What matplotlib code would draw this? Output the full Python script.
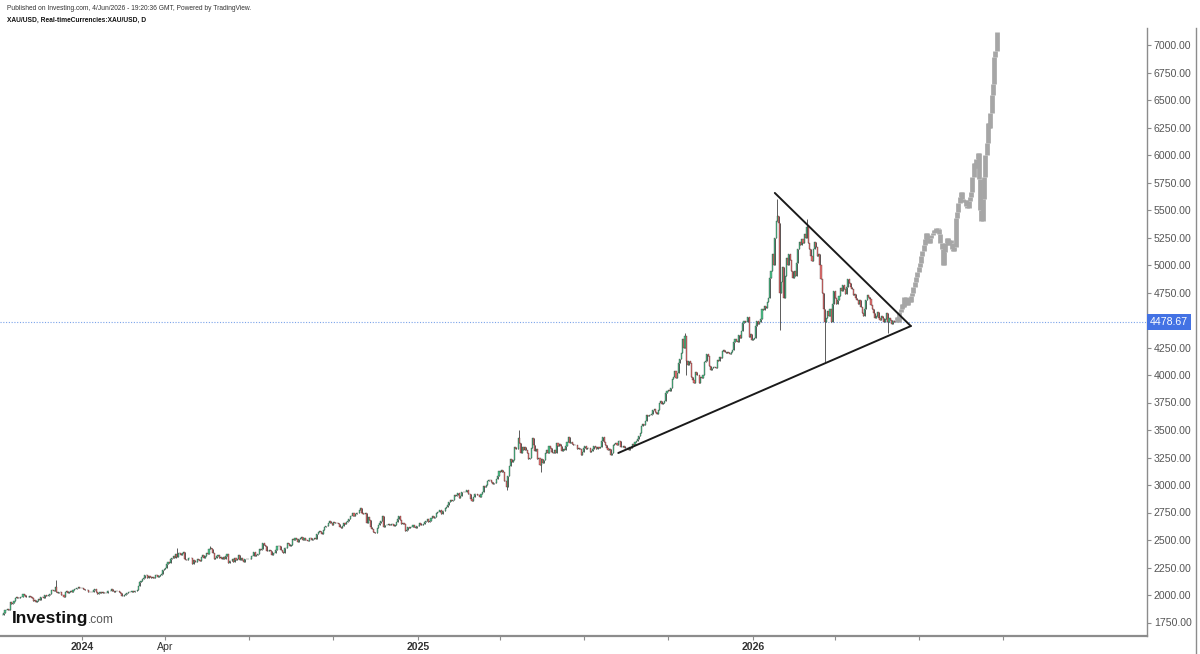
import numpy as np
import pandas as pd
import matplotlib
matplotlib.use("Agg")
import matplotlib.pyplot as plt
from matplotlib.lines import Line2D
from matplotlib.transforms import blended_transform_factory

# ---------------- data: daily closes (XAU/USD) ----------------
c_2023_10 = [1820, 1833, 1861, 1861, 1874, 1868, 1932, 1920, 1923, 1947, 1974, 1981, 1973, 1970, 1980, 1985, 2006, 1996, 1983]
c_2023_11 = [1983, 1986, 1992, 1978, 1969, 1950, 1958, 1940, 1946, 1962, 1958, 1981, 1980, 1977, 1998, 1990, 1993, 2001, 2013, 2041, 2044, 2036]
c_2023_12 = [2072, 2029, 2019, 2025, 2028, 2004, 1999, 1981, 2027, 2036, 2019, 2027, 2040, 2031, 2046, 2053, 2053, 2067, 2077, 2065, 2062]
c_2024_01 = [2062, 2059, 2041, 2043, 2045, 2027, 2029, 2024, 2029, 2049, 2054, 2028, 2006, 2022, 2029, 2021, 2029, 2016, 2020, 2018, 2032, 2036, 2039]
c_2024_02 = [2054, 2039, 2025, 2035, 2034, 2033, 2024, 2020, 1992, 1992, 2004, 2013, 2018, 2024, 2025, 2024, 2035, 2031, 2034, 2035, 2044]
c_2024_03 = [2083, 2115, 2128, 2148, 2159, 2179, 2182, 2158, 2175, 2162, 2155, 2160, 2157, 2186, 2181, 2165, 2172, 2179, 2194, 2230, 2233]
c_2024_04 = [2250, 2280, 2300, 2291, 2329, 2339, 2351, 2333, 2373, 2344, 2383, 2382, 2361, 2379, 2391, 2327, 2322, 2316, 2332, 2337, 2335, 2286]
c_2024_05 = [2320, 2303, 2301, 2323, 2314, 2309, 2346, 2360, 2336, 2358, 2386, 2377, 2415, 2425, 2421, 2379, 2329, 2334, 2351, 2361, 2338, 2343, 2327]
c_2024_06 = [2350, 2327, 2355, 2375, 2293, 2311, 2310, 2324, 2304, 2332, 2319, 2329, 2361, 2321, 2334, 2319, 2298, 2327, 2325, 2326]
c_2024_07 = [2331, 2330, 2356, 2356, 2391, 2358, 2363, 2371, 2415, 2411, 2422, 2469, 2459, 2445, 2400, 2397, 2409, 2397, 2364, 2386, 2384, 2411, 2447]
c_2024_08 = [2446, 2443, 2410, 2390, 2383, 2427, 2431, 2472, 2465, 2447, 2456, 2507, 2503, 2514, 2512, 2485, 2512, 2519, 2525, 2503, 2520, 2503]
c_2024_09 = [2500, 2494, 2516, 2517, 2497, 2505, 2516, 2512, 2558, 2577, 2580, 2570, 2559, 2587, 2621, 2628, 2629, 2657, 2672, 2658, 2634]
c_2024_10 = [2662, 2659, 2656, 2653, 2644, 2622, 2608, 2631, 2657, 2649, 2663, 2674, 2693, 2721, 2720, 2748, 2717, 2735, 2747, 2742, 2774, 2788, 2743]
c_2024_11 = [2736, 2736, 2742, 2659, 2706, 2685, 2619, 2598, 2573, 2565, 2563, 2611, 2632, 2651, 2670, 2715, 2617, 2632, 2638, 2638, 2650]
c_2024_12 = [2640, 2643, 2650, 2631, 2633, 2660, 2694, 2718, 2681, 2648, 2652, 2646, 2586, 2595, 2622, 2612, 2617, 2617, 2633, 2621, 2606, 2624]
c_2025_01 = [2624, 2657, 2640, 2636, 2648, 2662, 2670, 2690, 2662, 2677, 2696, 2715, 2703, 2708, 2744, 2755, 2753, 2770, 2739, 2763, 2760, 2793, 2798]
c_2025_02 = [2815, 2842, 2866, 2855, 2861, 2907, 2897, 2905, 2929, 2883, 2899, 2935, 2933, 2939, 2936, 2951, 2914, 2916, 2876, 2857]
c_2025_03 = [2893, 2918, 2920, 2911, 2910, 2889, 2917, 2934, 2988, 2984, 3001, 3035, 3048, 3043, 3023, 3010, 3020, 3019, 3057, 3084, 3124]
c_2025_04 = [3114, 3133, 3115, 3037, 3038, 2982, 3083, 3175, 3237, 3211, 3229, 3343, 3327, 3327, 3424, 3381, 3288, 3349, 3318, 3343, 3317, 3289]
c_2025_05 = [3238, 3241, 3334, 3431, 3365, 3306, 3325, 3235, 3249, 3178, 3240, 3204, 3230, 3290, 3314, 3295, 3357, 3340, 3300, 3288, 3318, 3289]
c_2025_06 = [3382, 3353, 3374, 3353, 3310, 3326, 3322, 3355, 3387, 3432, 3385, 3389, 3369, 3367, 3368, 3367, 3323, 3333, 3328, 3274, 3303]
c_2025_07 = [3338, 3357, 3326, 3337, 3336, 3302, 3313, 3324, 3355, 3343, 3325, 3347, 3339, 3350, 3396, 3432, 3387, 3368, 3337, 3314, 3326, 3275, 3289]
c_2025_08 = [3363, 3373, 3380, 3368, 3396, 3398, 3342, 3348, 3356, 3335, 3336, 3332, 3316, 3347, 3339, 3371, 3366, 3393, 3397, 3416, 3448]
c_2025_09 = [3476, 3533, 3559, 3545, 3586, 3636, 3625, 3640, 3634, 3643, 3680, 3690, 3660, 3643, 3685, 3746, 3764, 3736, 3749, 3760, 3833, 3858]
c_2025_10 = [3866, 3857, 3886, 3960, 3985, 4040, 3976, 4017, 4110, 4142, 4200, 4326, 4250, 4356, 4125, 4095, 4126, 4112, 3982, 3952, 3930, 4025, 4002]
c_2025_11 = [4000, 3930, 3980, 3977, 4000, 4115, 4128, 4195, 4170, 4080, 4045, 4066, 4077, 4077, 4065, 4135, 4130, 4165, 4155, 4220]
c_2025_12 = [4230, 4205, 4200, 4205, 4198, 4190, 4208, 4228, 4300, 4330, 4310, 4300, 4360, 4340, 4400, 4470, 4490, 4480, 4482, 4530, 4345, 4370, 4320]
c_2026_01 = [4330, 4335, 4450, 4495, 4460, 4480, 4510, 4600, 4590, 4625, 4610, 4660, 4700, 4880, 4950, 5100, 5000, 5250, 5400, 5450, 5380, 4750]
c_2026_02 = [4850, 4980, 4700, 4900, 5060, 5000, 5100, 5050, 4950, 4880, 4950, 4900, 5020, 5150, 5210, 5180, 5240, 5200, 5280, 5250]
c_2026_03 = [5350, 5200, 5150, 5080, 5040, 5150, 5210, 5160, 5080, 5100, 5000, 4870, 4750, 4600, 4480, 4520, 4580, 4540, 4600, 4480, 4650, 4760]
c_2026_04 = [4700, 4650, 4680, 4720, 4790, 4760, 4820, 4780, 4740, 4800, 4870, 4840, 4800, 4780, 4730, 4740, 4700, 4680, 4650, 4680, 4620, 4560]
c_2026_05 = [4540, 4600, 4680, 4730, 4710, 4690, 4640, 4600, 4560, 4520, 4540, 4570, 4520, 4500, 4540, 4520, 4480, 4510, 4560, 4480, 4520]
c_2026_06 = [4500, 4460, 4495, 4478.67]

first_open = 1815
# notable wick extremes: date -> (high, low)
wick_extremes = {
    "2023-12-04": (2135, None),
    "2024-04-12": (2431, None),
    "2024-05-20": (2450, None),
    "2024-10-30": (2790, None),
    "2025-04-08": (None, 2957),
    "2025-04-22": (3500, None),
    "2025-05-15": (None, 3120),
    "2025-10-20": (4381, None),
    "2025-10-21": (None, 4004),
    "2026-01-28": (5600, None),
    "2026-01-30": (None, 4410),
    "2026-03-02": (5420, None),
    "2026-03-20": (None, 4120),
    "2026-05-28": (None, 4380),
}

# grey projected bars (bars pattern), closes
projection = [4500, 4530, 4480, 4570, 4600, 4650, 4620, 4710, 4680, 4640,
              4700, 4660, 4720, 4750, 4800, 4850, 4890, 4940, 4980, 5020,
              5080, 5130, 5180, 5240, 5290, 5230, 5200, 5250, 5270, 5290,
              5320, 5300, 5340, 5330, 5280, 5200, 5150, 5000, 5120, 5200,
              5250, 5180, 5230, 5200, 5150, 5130, 5160, 5430, 5480, 5560,
              5620, 5660, 5600, 5570, 5590, 5540, 5520, 5580, 5620, 5660,
              5800, 5930, 5880, 5960, 6020, 5780, 5500, 5400, 5600, 5800,
              6000, 6110, 6290, 6250, 6380, 6550, 6650, 6890, 6950, 7120]

last_price = 4478.67

# triangle (date, price)
tri_upper = [("2026-01-26", 5655), ("2026-06-23", 4445)]
tri_lower = [("2025-08-07", 3291), ("2026-06-23", 4445)]

# 4500 is hidden behind the last-price label in the reference
y_ticks = [1750, 2000, 2250, 2500, 2750, 3000, 3250, 3500, 3750, 4000, 4250,
           4750, 5000, 5250, 5500, 5750, 6000, 6250, 6500, 6750, 7000]

month_lists = [c_2023_10, c_2023_11, c_2023_12,
               c_2024_01, c_2024_02, c_2024_03, c_2024_04, c_2024_05, c_2024_06,
               c_2024_07, c_2024_08, c_2024_09, c_2024_10, c_2024_11, c_2024_12,
               c_2025_01, c_2025_02, c_2025_03, c_2025_04, c_2025_05, c_2025_06,
               c_2025_07, c_2025_08, c_2025_09, c_2025_10, c_2025_11, c_2025_12,
               c_2026_01, c_2026_02, c_2026_03, c_2026_04, c_2026_05, c_2026_06]
closes = np.array([v for m in month_lists for v in m], dtype=float)
n = len(closes)
dates = pd.bdate_range("2023-10-05", "2026-12-31")
pos = {d: i for i, d in enumerate(dates)}

def bar_of(s):
    return pos[pd.Timestamp(s)]

opens = np.concatenate([[first_open], closes[:-1]])
highs = np.maximum(opens, closes)
lows = np.minimum(opens, closes)
for d, (h, l) in wick_extremes.items():
    j = bar_of(d)
    if h is not None:
        highs[j] = h
    if l is not None:
        lows[j] = l

# ---------------- figure ----------------
W, H = 1200, 654
fig = plt.figure(figsize=(W / 100, H / 100), dpi=100)
fig.patch.set_facecolor("white")
ax_left, ax_right, ax_top, ax_bot = 0, 1147, 28, 636
ax = fig.add_axes([ax_left / W, 1 - ax_bot / H, (ax_right - ax_left) / W, (ax_bot - ax_top) / H])

x = np.arange(n)
up = closes >= opens
up_col = "#4cc38a"
dn_col = "#e57373"
ax.vlines(x, lows, highs, color="#303030", lw=0.55, zorder=2)
body_bot = np.minimum(opens, closes)
body_h = np.abs(closes - opens)
ax.bar(x[up], body_h[up], bottom=body_bot[up], width=0.85, color=up_col,
       edgecolor="#2a4a3a", linewidth=0.25, zorder=3)
ax.bar(x[~up], body_h[~up], bottom=body_bot[~up], width=0.85, color=dn_col,
       edgecolor="#5a2a2a", linewidth=0.25, zorder=3)

# projection
px = np.arange(n, n + len(projection))
p_close = np.array(projection, dtype=float)
p_open = np.concatenate([[closes[-1]], p_close[:-1]])
ax.vlines(px, np.minimum(p_open, p_close), np.maximum(p_open, p_close),
          color="#a6a6a6", lw=3.4, zorder=2)

# triangle
for seg in (tri_upper, tri_lower):
    ax.plot([bar_of(seg[0][0]), bar_of(seg[1][0])], [seg[0][1], seg[1][1]],
            color="#1a1a1a", lw=1.4, zorder=5, solid_capstyle="round")

# last price line
ax.axhline(last_price, color="#7aa3ea", lw=0.8, ls=(0, (1, 1.5)), zorder=1)
tr = blended_transform_factory(ax.transAxes, ax.transData)
ax.text(1.0025, last_price, f"{last_price:.2f}", transform=tr, ha="left", va="center",
        fontsize=7.6, color="white", family="Liberation Sans", clip_on=False, zorder=10,
        bbox=dict(boxstyle="square,pad=0.28", fc="#4372e4", ec="none"))

# scales
x0 = -2.45 / 1.283
x1 = (ax_right - 2.45) / 1.283
ax.set_xlim(x0, x1)
def v_at(ypx):
    return 7000 - (ypx - 45) / 0.11
ax.set_ylim(v_at(ax_bot), v_at(ax_top))

for s in ("top", "left"):
    ax.spines[s].set_visible(False)
ax.spines["right"].set_color("#8c8c8c")
ax.spines["right"].set_linewidth(1.0)
ax.spines["bottom"].set_color("#8c8c8c")
ax.spines["bottom"].set_linewidth(1.6)

ax.yaxis.tick_right()
ax.set_yticks(y_ticks)
ax.set_yticklabels([f"{v:.2f}" for v in y_ticks])
ax.tick_params(axis="y", length=3, width=0.8, color="#8c8c8c", labelsize=7.6,
               labelcolor="#555555", pad=2)
for t in ax.get_yticklabels():
    t.set_family("Liberation Sans")

# quarterly ticks
tick_pos, tick_lab, tick_bold = [], [], []
for yr in (2024, 2025, 2026):
    for mo in (1, 4, 7, 10):
        first = dates[(dates.year == yr) & (dates.month == mo)][0]
        tick_pos.append(pos[first])
        if mo == 1:
            tick_lab.append(str(yr)); tick_bold.append(True)
        elif yr == 2024 and mo == 4:
            tick_lab.append("Apr"); tick_bold.append(False)
        else:
            tick_lab.append(""); tick_bold.append(False)
ax.set_xticks(tick_pos)
ax.set_xticklabels(tick_lab)
ax.tick_params(axis="x", length=3, width=0.8, color="#8c8c8c", labelsize=7.6,
               labelcolor="#333333", pad=1.5)
for t, b in zip(ax.get_xticklabels(), tick_bold):
    t.set_family("Liberation Sans")
    if b:
        t.set_fontweight("bold")

# right border line
fig.add_artist(Line2D([1196 / W, 1196 / W], [0, 1 - ax_top / H], transform=fig.transFigure,
                      color="#8c8c8c", lw=1.0))

# header
fig.text(7 / W, 1 - 8 / H, "Published on Investing.com, 4/Jun/2026 - 19:20:36 GMT, Powered by TradingView.",
         fontsize=4.8, color="#333333", family="Liberation Sans", va="center", ha="left")
fig.text(7 / W, 1 - 20 / H, "XAU/USD, Real-timeCurrencies:XAU/USD, D",
         fontsize=4.8, color="#111111", family="Liberation Sans", fontweight="bold",
         va="center", ha="left")

# logo
fig.text(12 / W, 1 - 619 / H, "Investing", fontsize=12.5, fontweight="bold",
         family="Liberation Sans", color="#111111", va="center", ha="left")
fig.text(88 / W, 1 - 620 / H, ".com", fontsize=8.6, family="Liberation Sans",
         color="#555555", va="center", ha="left")

fig.savefig("out.png", dpi=100, facecolor="white")
